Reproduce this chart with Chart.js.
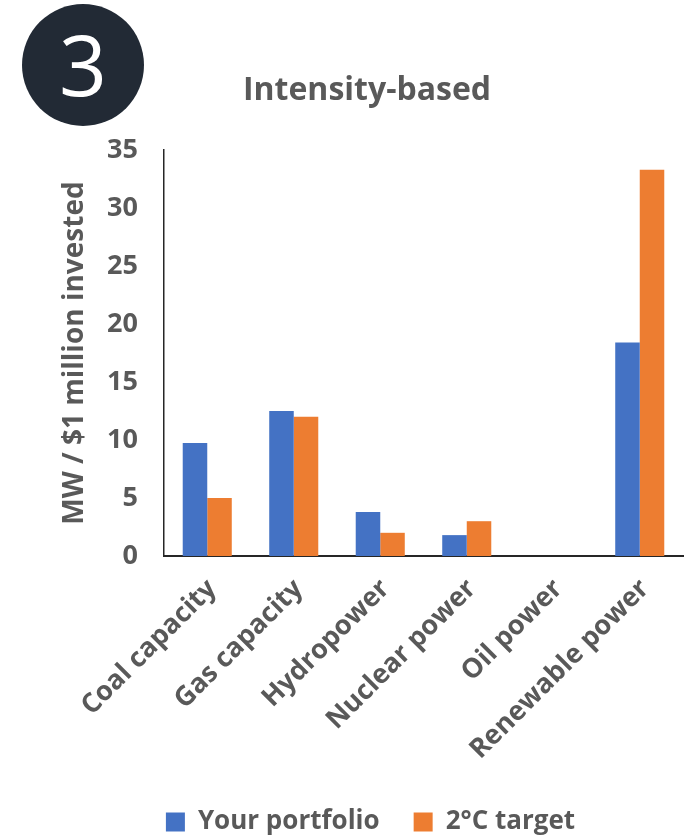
<!DOCTYPE html>
<html>
<head>
<meta charset="utf-8">
<script src="https://cdn.jsdelivr.net/npm/chart.js@4"></script>
<style>
  html, body { margin: 0; padding: 0; background: #fff; }
  #wrap { position: relative; width: 695px; height: 835px; }
  #badge { position: absolute; left: 22px; top: 4px; width: 122px; height: 122px; border-radius: 50%;
           background: #222a35; color: #fff; font-family: "Open Sans", sans-serif; font-size: 84px;
           line-height: 120px; text-align: center; font-weight: 400; }
  #title { position: absolute; left: 167px; width: 400px; top: 66px; text-align: center;
           font-family: "Open Sans", sans-serif; font-weight: 700; font-size: 32px; color: #595959; }
  canvas { position: absolute; left: 0; top: 0; }
</style>
</head>
<body>
<div id="wrap">
  <canvas id="c" width="695" height="835"></canvas>
  <div id="badge">3</div>
  <div id="title">Intensity-based</div>
</div>
<script>
const categories = ["Coal capacity", "Gas capacity", "Hydropower", "Nuclear power", "Oil power", "Renewable power"];
const yourPortfolio = [9.75, 12.5, 3.8, 1.8, 0, 18.4];
const target2C = [5.0, 12.0, 2.0, 3.0, 0, 33.3];
const seriesNames = ["Your portfolio", "2°C target"];
const yTicks = [0, 5, 10, 15, 20, 25, 30, 35];
const yTitle = "MW / $1 million invested";

const gray = "#595959";
const fontFam = "'Open Sans', sans-serif";

new Chart(document.getElementById("c"), {
  type: "bar",
  data: {
    labels: categories,
    datasets: [
      { label: seriesNames[0], data: yourPortfolio, backgroundColor: "#4472C4", borderWidth: 0 },
      { label: seriesNames[1], data: target2C, backgroundColor: "#ED7D31", borderWidth: 0 }
    ]
  },
  options: {
    responsive: false,
    animation: false,
    devicePixelRatio: 1,
    layout: { padding: { left: 58, right: 12, top: 150, bottom: -10 } },
    datasets: { bar: { categoryPercentage: 0.567, barPercentage: 1.0 } },
    plugins: {
      legend: {
        position: "bottom",
        labels: {
          color: gray,
          font: { family: fontFam, size: 26, weight: "bold" },
          boxWidth: 19, boxHeight: 19, padding: 34
        }
      },
      title: { display: false },
      tooltip: { enabled: false }
    },
    scales: {
      x: {
        grid: { display: false, drawTicks: false },
        border: { display: true, color: "#262626", width: 2 },
        afterFit: (s) => { s.height = 219; },
        ticks: {
          color: gray, maxRotation: 45, minRotation: 45, padding: 17, labelOffset: 5,
          font: { family: fontFam, size: 27, weight: "bold" }
        }
      },
      y: {
        min: 0, max: 35,
        afterFit: (s) => { s.width = 106; },
        afterBuildTicks: (axis) => { axis.ticks = yTicks.map(v => ({ value: v })); },
        grid: { display: false, drawTicks: false },
        border: { display: true, color: "#262626", width: 1.5 },
        ticks: {
          color: gray, padding: 26,
          font: { family: fontFam, size: 27, weight: "bold" }
        },
        title: {
          display: true, text: yTitle, color: gray, padding: { top: 0, bottom: 0 },
          font: { family: fontFam, size: 28, weight: "bold" }
        }
      }
    }
  }
});
</script>
</body>
</html>
